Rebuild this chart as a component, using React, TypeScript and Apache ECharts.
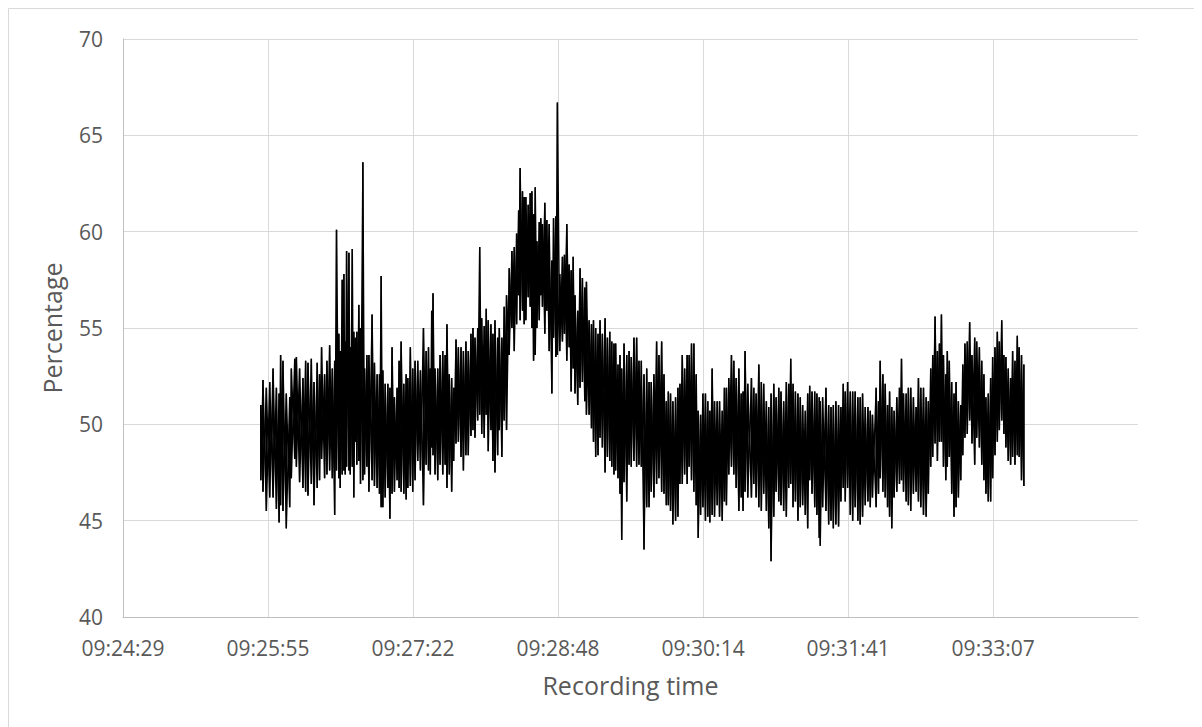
import React, { useEffect, useRef } from "react";
import * as echarts from "echarts";

// Axis: seconds after 09:24:28.8 (Excel time 0.392 day), major unit 0.001 day = 86.4 s
const axisStartClockSeconds = 9 * 3600 + 24 * 60 + 28.8;
const xTickStep = 86.4;
const xAxisSpan = 604.7;
const yMin = 40;
const yMax = 70;
const yStep = 5;

const xTitle = "Recording time";
const yTitle = "Percentage";

// Sample times (seconds after axis start) with the upper and lower swing of the signal
const sampleTimes = [
  82.1, 83.4, 85.4, 87.4, 89.4, 91.4, 93.0, 93.9, 95.3, 97.3, 99.3, 100.3, 102.3, 103.3, 105.2, 107.2, 108.8, 110.2, 112.2, 113.8, 115.7, 117.1, 118.3, 120.1, 121.5, 123.1, 124.7, 126.1, 127.2, 128.6, 129.4, 130.6, 131.6, 132.4, 133.2, 134.6, 135.4, 136.6, 137.5, 138.5, 139.3, 140.5, 141.5, 142.9, 143.9, 145.3, 146.5, 148.4,
  149.8, 151.4, 152.8, 153.8, 154.8, 156.2, 157.8, 159.0, 160.3, 161.7, 163.3, 164.5, 165.7, 167.3, 168.7, 169.7, 171.2, 172.6, 174.0, 175.6, 177.2, 179.0, 180.6, 182.0, 183.1, 183.9, 184.7, 185.9, 187.5, 188.9, 190.5, 191.9, 193.0, 194.4, 195.8, 197.0, 198.4, 199.8, 201.4, 202.8, 204.3, 205.7, 207.3, 208.5, 209.7, 211.3, 212.5, 213.7, 215.2, 216.4, 217.6, 219.2, 220.4, 221.6, 223.2,
  224.2, 225.7, 227.1, 228.5, 230.1, 231.7, 233.1, 234.5, 235.7, 236.6, 238.0, 239.0, 240.0, 241.4, 242.6, 243.6, 244.6, 245.6, 246.6, 248.0, 248.9, 249.9, 251.3, 252.5, 253.9, 255.5, 256.5, 257.9, 258.8, 260.2, 261.8, 263.0, 264.4, 265.8, 267.0, 268.2, 269.3, 270.9, 272.3, 273.7, 275.1, 276.1, 277.7, 279.1, 280.3, 281.6, 283.0, 284.2, 285.6, 287.2, 288.6, 290.0, 291.2, 292.5, 293.5, 294.9, 296.1, 297.1,
  298.5, 300.1, 301.5, 302.8, 304.4, 306.0, 307.4, 308.8, 310.4, 312.0, 313.4, 314.7, 316.3, 317.9, 319.3, 320.9, 322.3, 323.7, 324.9, 326.2, 327.6, 329.2, 330.6, 331.8, 333.2, 334.6, 336.1, 337.3, 338.7, 340.1, 341.5, 342.7, 344.1, 345.5, 347.0, 348.4, 349.6, 351.0, 352.4, 354.0, 355.4, 357.0, 358.3, 359.5, 360.9, 362.5, 363.9, 365.3, 366.9, 368.3, 369.4, 370.6, 372.2,
  374.4, 375.8, 377.2, 378.8, 380.3, 381.7, 383.3, 384.7, 386.1, 387.7, 389.1, 390.7, 392.0, 393.6, 395.2, 396.6, 397.8, 399.2, 400.6, 402.1, 403.5, 404.9, 406.5, 407.9, 409.1, 410.5, 412.1, 413.4, 414.8, 415.4, 416.8, 418.8, 420.4, 421.8, 423.2, 424.7, 426.3, 427.7, 429.1, 430.3, 431.7, 433.3, 434.7, 436.2, 437.8, 439.2, 440.6, 442.2, 443.8, 445.2, 446.5,
  448.7, 450.1, 451.1, 452.7, 454.1, 455.5, 456.7, 458.0, 459.4, 461.0, 462.6, 463.8, 465.0, 466.6, 467.9, 469.3, 470.9, 472.5, 473.9, 475.3, 476.9, 478.5, 479.8, 481.2, 482.4, 483.8, 485.2, 486.4, 487.6, 488.8, 490.2, 491.1, 492.3, 493.7, 495.1, 496.3, 497.7, 499.1, 500.3, 501.6, 503.0, 504.4, 505.8, 507.4, 508.6, 510.2, 511.6, 512.9, 514.1, 515.5, 516.9, 518.1, 519.5, 520.9, 522.1, 523.5, 524.8, 526.0, 527.4, 528.8, 530.0, 531.4, 532.8, 533.9, 535.3, 536.7,
];

const highValues = [
  51.0, 52.3, 51.9, 52.2, 52.9, 51.9, 51.6, 53.6, 53.3, 51.6, 51.4, 52.9, 53.4, 53.5, 52.9, 52.4, 53.3, 53.2, 53.4, 52.2, 53.2, 52.6, 54.0, 52.6, 53.3, 54.1, 52.9, 53.3, 60.1, 54.7, 53.8, 57.5, 57.8, 54.3, 59.0, 58.9, 54.0, 59.1, 54.8, 54.5, 54.8, 56.2, 55.0, 63.6, 52.9, 53.6, 53.6, 55.7,
  53.2, 52.6, 52.6, 57.7, 52.8, 52.1, 52.1, 51.9, 54.0, 51.4, 51.9, 53.3, 54.3, 52.1, 52.6, 52.4, 54.0, 52.9, 53.3, 53.3, 52.8, 55.0, 53.8, 54.0, 52.9, 55.9, 56.8, 52.9, 52.9, 53.6, 53.8, 53.6, 55.2, 52.6, 52.4, 51.9, 54.4, 54.0, 54.0, 53.8, 54.3, 53.8, 54.7, 55.0, 54.5, 55.0, 59.2, 55.5, 55.1, 56.0, 55.4, 55.2, 54.7, 55.4, 54.5,
  55.0, 54.5, 56.1, 56.7, 58.1, 59.0, 59.2, 59.9, 61.1, 63.3, 62.1, 61.8, 61.8, 61.4, 62.0, 62.1, 60.9, 62.3, 59.5, 60.5, 60.7, 60.4, 61.5, 60.6, 60.4, 58.5, 60.7, 60.8, 66.7, 57.8, 58.7, 58.8, 60.4, 58.3, 58.0, 58.7, 56.7, 55.9, 58.1, 57.6, 57.1, 57.4, 55.4, 55.2, 55.4, 55.0, 54.7, 55.4, 54.7, 55.5, 54.5, 54.8, 54.3, 54.2, 54.2, 53.1, 53.6, 52.9,
  54.2, 53.6, 53.8, 53.5, 54.5, 54.5, 53.3, 53.3, 52.6, 52.9, 52.2, 52.2, 52.6, 54.3, 53.6, 54.3, 52.6, 51.2, 51.7, 51.6, 51.2, 51.4, 51.9, 52.1, 53.6, 52.9, 53.6, 53.6, 54.2, 54.2, 52.6, 50.7, 50.5, 51.6, 51.6, 51.2, 50.7, 52.9, 51.2, 51.2, 51.2, 50.7, 51.9, 51.9, 52.4, 53.6, 53.3, 52.4, 52.9, 51.6, 51.7, 53.8, 52.1,
  52.4, 51.9, 51.6, 53.1, 52.2, 52.1, 51.2, 50.9, 51.6, 52.1, 51.4, 51.9, 51.7, 51.2, 52.2, 52.1, 53.4, 52.1, 51.7, 51.6, 51.4, 51.0, 50.7, 51.6, 52.0, 51.7, 51.7, 51.6, 51.4, 51.2, 51.4, 51.9, 51.0, 50.9, 51.0, 51.2, 51.0, 50.9, 52.1, 51.7, 52.2, 51.7, 51.7, 51.7, 51.4, 51.4, 51.6, 50.9, 50.9, 50.7, 50.5,
  51.9, 51.2, 53.3, 52.6, 52.1, 51.0, 51.7, 50.9, 50.7, 51.4, 51.9, 53.4, 51.6, 51.6, 51.9, 51.9, 51.4, 50.9, 52.4, 51.9, 51.9, 51.4, 51.2, 52.9, 53.6, 55.6, 53.8, 54.2, 55.7, 53.6, 52.6, 53.8, 53.3, 52.2, 51.6, 52.2, 51.2, 51.0, 53.1, 54.2, 54.3, 55.3, 53.6, 54.5, 54.3, 54.0, 53.3, 52.6, 51.4, 51.6, 52.4, 53.5, 54.0, 54.8, 54.3, 55.4, 53.6, 53.5, 52.9, 52.4, 53.8, 53.3, 54.6, 54.0, 53.6, 53.1,
];

const lowValues = [
  47.1, 46.5, 45.5, 46.2, 46.2, 45.6, 44.9, 45.8, 45.5, 44.6, 45.7, 47.2, 48.2, 47.8, 47.0, 46.7, 46.5, 46.3, 46.9, 45.8, 46.7, 47.1, 48.2, 47.2, 47.4, 47.6, 47.2, 45.3, 47.6, 47.2, 46.7, 47.4, 47.6, 47.4, 47.8, 47.6, 47.4, 47.8, 46.2, 49.1, 47.9, 48.1, 46.9, 47.1, 47.4, 47.8, 46.5, 47.1,
  46.8, 46.7, 46.4, 45.7, 45.7, 46.2, 46.7, 45.1, 46.4, 46.5, 47.1, 46.7, 46.5, 46.4, 46.1, 46.7, 46.8, 46.5, 47.1, 48.1, 47.6, 45.8, 47.9, 47.6, 47.4, 48.8, 48.4, 47.4, 47.1, 47.9, 47.4, 47.9, 46.7, 47.4, 46.5, 48.1, 49.0, 49.1, 48.3, 47.6, 48.4, 48.4, 49.4, 49.7, 49.3, 50.2, 50.5, 49.5, 49.3, 50.5, 48.6, 49.7, 48.1, 47.5, 48.4,
  49.7, 48.3, 50.2, 49.7, 53.6, 55.0, 53.8, 55.2, 56.7, 55.4, 55.9, 55.2, 55.4, 56.6, 56.1, 55.0, 53.3, 53.6, 55.0, 55.4, 56.7, 56.1, 54.7, 55.9, 53.8, 51.6, 54.5, 53.5, 53.6, 53.8, 54.3, 54.7, 53.3, 54.0, 51.7, 52.9, 51.6, 51.0, 51.9, 52.2, 51.2, 50.5, 50.5, 49.8, 49.1, 48.3, 48.4, 49.3, 48.8, 47.5, 48.3, 48.1, 47.8, 47.4, 47.6, 47.2, 46.4, 44.0,
  47.0, 46.0, 47.9, 47.8, 48.1, 47.8, 47.9, 47.8, 43.5, 45.7, 45.7, 46.5, 46.2, 46.9, 47.2, 46.5, 46.4, 45.8, 45.8, 45.5, 44.8, 45.0, 45.2, 46.9, 46.9, 47.4, 46.9, 47.8, 47.1, 46.5, 45.8, 44.1, 45.3, 45.7, 45.0, 45.2, 44.9, 45.3, 45.2, 45.8, 45.2, 45.0, 46.0, 45.8, 47.4, 47.8, 47.4, 46.7, 45.5, 46.2, 45.5, 46.5, 46.2,
  46.2, 46.9, 46.2, 45.7, 45.5, 46.4, 45.5, 44.6, 42.9, 45.2, 46.5, 46.0, 45.8, 45.5, 45.2, 46.7, 46.9, 45.7, 46.0, 45.0, 45.7, 45.8, 45.3, 44.6, 47.1, 46.4, 45.7, 45.3, 44.1, 43.7, 45.7, 45.5, 44.8, 45.0, 44.6, 44.8, 44.7, 46.0, 46.7, 46.0, 46.7, 45.3, 45.0, 45.7, 45.0, 44.8, 45.2, 45.8, 46.0, 45.7, 46.2,
  45.7, 46.4, 47.2, 46.5, 46.2, 45.7, 45.2, 44.6, 46.2, 46.5, 46.9, 47.1, 46.5, 46.0, 45.8, 45.5, 46.4, 46.5, 46.0, 45.7, 45.3, 45.2, 46.4, 47.8, 48.3, 49.0, 48.1, 49.1, 49.1, 47.8, 47.1, 47.8, 48.3, 46.4, 45.2, 45.7, 46.2, 47.1, 48.4, 49.3, 49.5, 50.2, 49.0, 47.9, 49.3, 48.8, 47.9, 47.1, 46.4, 46.0, 46.0, 47.2, 48.4, 49.1, 49.7, 50.2, 49.5, 48.8, 48.1, 47.9, 48.3, 47.9, 48.4, 48.3, 47.1, 46.8,
];

function pad(n: number) {
  return n < 10 ? "0" + n : String(n);
}

function formatClock(v: number) {
  const k = v / xTickStep;
  if (Math.abs(k - Math.round(k)) > 1e-6) return "";
  const s = Math.round(axisStartClockSeconds + v);
  const h = Math.floor(s / 3600);
  const m = Math.floor((s % 3600) / 60);
  const sec = s % 60;
  return pad(h) + ":" + pad(m) + ":" + pad(sec);
}

export default function App() {
  const ref = useRef<HTMLDivElement>(null);

  useEffect(() => {
    if (!ref.current) return;
    const chart = echarts.init(ref.current, undefined, { renderer: "svg" });

    const n = Math.min(sampleTimes.length, highValues.length, lowValues.length);
    // Trace through each sample's swing, top first and bottom first
    const traceDown: number[][] = [];
    const traceUp: number[][] = [];
    for (let i = 0; i < n; i++) {
      traceDown.push([sampleTimes[i], highValues[i]]);
      traceDown.push([sampleTimes[i], lowValues[i]]);
      traceUp.push([sampleTimes[i], lowValues[i]]);
      traceUp.push([sampleTimes[i], highValues[i]]);
    }

    const textColor = "#595959";
    const font = "'Open Sans', 'Noto Sans', sans-serif";
    const traceStyle = { color: "#000000", width: 1.4 };

    chart.setOption({
      animation: false,
      backgroundColor: "#ffffff",
      grid: { left: 115, top: 31, right: 64, bottom: 110, containLabel: false },
      graphic: [
        {
          type: "line",
          shape: { x1: 0.5, y1: 0.5, x2: 0.5, y2: 719 },
          style: { stroke: "#d9d9d9", lineWidth: 1 },
          silent: true,
        },
        {
          type: "line",
          shape: { x1: 0.5, y1: 0.5, x2: 1194, y2: 0.5 },
          style: { stroke: "#d9d9d9", lineWidth: 1 },
          silent: true,
        },
      ],
      xAxis: {
        type: "value",
        min: 0,
        max: xAxisSpan,
        interval: xTickStep,
        name: xTitle,
        nameLocation: "middle",
        nameGap: 55,
        nameTextStyle: { color: textColor, fontSize: 25, fontFamily: font },
        axisLine: { show: true, lineStyle: { color: "#bfbfbf", width: 1 } },
        axisTick: { show: false },
        axisLabel: {
          color: textColor,
          fontSize: 21,
          fontFamily: font,
          margin: 20,
          showMaxLabel: false,
          formatter: (v: number) => formatClock(v),
        },
        splitLine: {
          show: true,
          showMaxLine: false,
          lineStyle: { color: "#d9d9d9", width: 1 },
        },
      },
      yAxis: {
        type: "value",
        min: yMin,
        max: yMax,
        interval: yStep,
        name: yTitle,
        nameLocation: "middle",
        nameGap: 59,
        nameRotate: 90,
        nameTextStyle: { color: textColor, fontSize: 25, fontFamily: font },
        axisLine: { show: true, lineStyle: { color: "#bfbfbf", width: 1 } },
        axisTick: { show: false },
        axisLabel: { color: textColor, fontSize: 21, fontFamily: font, margin: 20 },
        splitLine: { show: true, lineStyle: { color: "#d9d9d9", width: 1 } },
      },
      series: [
        {
          type: "line",
          data: traceDown,
          showSymbol: false,
          symbol: "none",
          silent: true,
          lineStyle: traceStyle,
          z: 3,
        },
        {
          type: "line",
          data: traceUp,
          showSymbol: false,
          symbol: "none",
          silent: true,
          lineStyle: traceStyle,
          z: 3,
        },
      ],
    });

    return () => {
      chart.dispose();
    };
  }, []);

  return <div ref={ref} style={{ width: 1194, height: 719 }} />;
}
